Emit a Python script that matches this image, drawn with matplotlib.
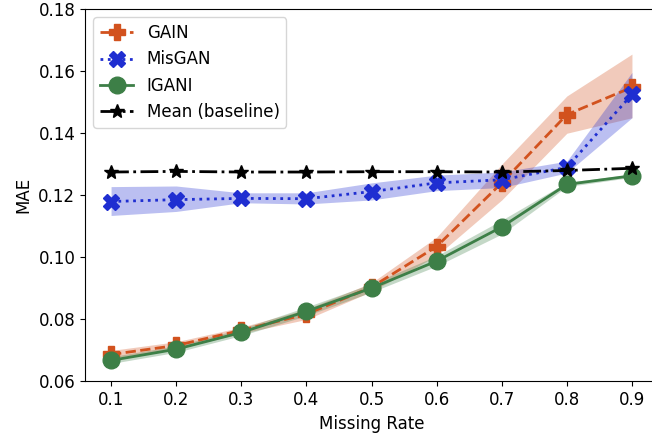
import matplotlib
matplotlib.use('Agg')
import matplotlib.pyplot as plt

rates = [0.1, 0.2, 0.3, 0.4, 0.5, 0.6, 0.7, 0.8, 0.9]

# GAIN
gain = [0.0687, 0.0716, 0.0765, 0.0817, 0.0904, 0.1035, 0.1240, 0.1460, 0.1548]
gain_lo = [0.0675, 0.0705, 0.0755, 0.0800, 0.0890, 0.1005, 0.1185, 0.1400, 0.1450]
gain_hi = [0.0700, 0.0728, 0.0775, 0.0833, 0.0918, 0.1065, 0.1300, 0.1520, 0.1655]

# MisGAN
misgan = [0.1180, 0.1186, 0.1190, 0.1189, 0.1212, 0.1240, 0.1250, 0.1290, 0.1525]
misgan_lo = [0.1135, 0.1148, 0.1176, 0.1172, 0.1185, 0.1215, 0.1225, 0.1272, 0.1450]
misgan_hi = [0.1228, 0.1230, 0.1208, 0.1208, 0.1240, 0.1265, 0.1275, 0.1310, 0.1596]

# IGANI
igani = [0.0668, 0.0704, 0.0758, 0.0826, 0.0901, 0.0988, 0.1098, 0.1235, 0.1263]
igani_lo = [0.0658, 0.0694, 0.0748, 0.0812, 0.0888, 0.0972, 0.1075, 0.1228, 0.1258]
igani_hi = [0.0680, 0.0715, 0.0770, 0.0840, 0.0915, 0.1005, 0.1120, 0.1242, 0.1268]

# Mean (baseline)
mean = [0.1275, 0.1277, 0.1275, 0.1275, 0.1276, 0.1276, 0.1275, 0.1280, 0.1287]

c_gain = '#d2521e'
c_mis = '#1f2ed1'
c_igani = '#3d7f47'

fig = plt.figure(figsize=(6.52, 4.34), dpi=100)
ax = fig.add_axes([0.1304, 0.121, 0.8788, 0.858])

ax.fill_between(rates, gain_lo, gain_hi, color=c_gain, alpha=0.3, linewidth=0)
ax.fill_between(rates, misgan_lo, misgan_hi, color=c_mis, alpha=0.3, linewidth=0)
ax.fill_between(rates, igani_lo, igani_hi, color=c_igani, alpha=0.3, linewidth=0)

ax.plot(rates, gain, '--', color=c_gain, marker='P', markersize=12, linewidth=2, label='GAIN')
ax.plot(rates, misgan, ':', color=c_mis, marker='X', markersize=12, linewidth=2, label='MisGAN')
ax.plot(rates, igani, '-', color=c_igani, marker='o', markersize=12, linewidth=2, label='IGANI')
ax.plot(rates, mean, '-.', color='black', marker='*', markersize=10, linewidth=2, label='Mean (baseline)')

ax.set_xlim(0.06, 0.94)
ax.set_ylim(0.06, 0.18)
ax.set_xticks(rates)
ax.set_yticks([0.06, 0.08, 0.10, 0.12, 0.14, 0.16, 0.18])
ax.set_yticklabels(['0.06', '0.08', '0.10', '0.12', '0.14', '0.16', '0.18'])
ax.tick_params(labelsize=12)
ax.set_xlabel('Missing Rate', fontsize=12)
ax.set_ylabel('MAE', fontsize=12)
ax.legend(loc='upper left', fontsize=12)

fig.savefig('out.png', dpi=100)
